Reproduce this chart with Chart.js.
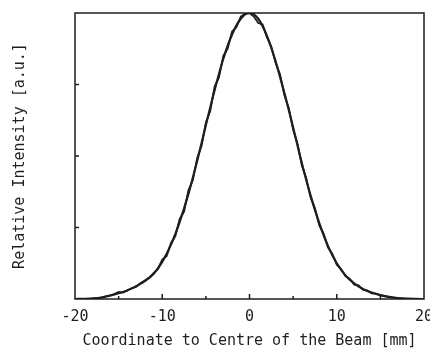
<!DOCTYPE html>
<html>
<head>
<meta charset="utf-8">
<script src="https://cdn.jsdelivr.net/npm/chart.js@4"></script>
<style>
  body { margin: 0; background: #fff; }
  #wrap { width: 430px; height: 354px; }
</style>
</head>
<body>
<div id="wrap"><canvas id="beamProfile"></canvas></div>
<script>
// fitted profile, mm / a.u.
const fitX = [-20, -19, -18, -17, -16, -15, -14, -13, -12, -11, -10, -9, -8, -7, -6, -5, -4, -3, -2, -1,
  0, 1, 2, 3, 4, 5, 6, 7, 8, 9, 10, 11, 12, 13, 14, 15, 16, 17, 18, 19, 20];
const fitY = [0, 0.003, 0.008, 0.02, 0.045, 0.08, 0.12, 0.18, 0.25, 0.35, 0.52, 0.76, 1.08, 1.47, 1.93, 2.43, 2.92, 3.36, 3.70, 3.92,
  4.00, 3.92, 3.68, 3.32, 2.88, 2.40, 1.90, 1.45, 1.06, 0.74, 0.50, 0.33, 0.22, 0.14, 0.09, 0.055, 0.03, 0.012, 0.004, 0.001, 0];

// measured profile
const measX = [-17, -16.5, -16, -15.5, -15, -14.5, -14, -13.5, -13, -12.5, -12, -11.5, -11, -10.5, -10, -9.5, -9, -8.5,
  -8, -7.5, -7, -6.5, -6, -5.5, -5, -4.5, -4, -3.5, -3, -2.5, -2, -1.5, -1, -0.5,
  0, 0.5, 1, 1.5, 2, 2.5, 3, 3.5, 4, 4.5, 5, 5.5, 6, 6.5, 7, 7.5, 8, 8.5,
  9, 9.5, 10, 10.5, 11, 11.5, 12, 12.5, 13, 13.5, 14, 14.5, 15, 15.5, 16, 16.5, 17, 17.5, 18];
const measY = [0.02, 0.035, 0.05, 0.07, 0.10, 0.09, 0.12, 0.15, 0.17, 0.22, 0.26, 0.30, 0.36, 0.42, 0.55, 0.60, 0.78, 0.88,
  1.12, 1.22, 1.52, 1.66, 1.97, 2.14, 2.47, 2.63, 2.97, 3.10, 3.40, 3.50, 3.74, 3.80, 3.95, 3.99,
  4.00, 3.95, 3.86, 3.84, 3.66, 3.53, 3.30, 3.14, 2.85, 2.67, 2.37, 2.17, 1.87, 1.69, 1.42, 1.27, 1.03, 0.91,
  0.72, 0.63, 0.48, 0.42, 0.32, 0.28, 0.20, 0.19, 0.13, 0.12, 0.08, 0.075, 0.05, 0.045, 0.025, 0.02, 0.01, 0.005, 0];

const xTicks = [-20, -10, 0, 10, 20];
const xMinorTicks = [-15, -5, 5, 15];
const yTicks = [1, 2, 3];

const ink = '#1e1e1e';
const monoFont = { family: 'DejaVu Sans Mono', size: 15 };

// frame + inward tick marks like the plotter output
const framePlugin = {
  id: 'frame',
  afterDraw(chart) {
    const { ctx, chartArea: a, scales } = chart;
    ctx.save();
    ctx.strokeStyle = ink;
    ctx.lineWidth = 1.5;
    ctx.strokeRect(a.left, a.top, a.right - a.left, a.bottom - a.top);
    ctx.beginPath();
    xTicks.slice(1, -1).forEach(v => {
      const px = scales.x.getPixelForValue(v);
      ctx.moveTo(px, a.bottom);
      ctx.lineTo(px, a.bottom - 5);
    });
    xMinorTicks.forEach(v => {
      const px = scales.x.getPixelForValue(v);
      ctx.moveTo(px, a.bottom);
      ctx.lineTo(px, a.bottom - 3);
    });
    yTicks.forEach(v => {
      const py = scales.y.getPixelForValue(v);
      ctx.moveTo(a.left, py);
      ctx.lineTo(a.left + 4, py);
    });
    ctx.stroke();
    ctx.restore();
  }
};

new Chart(document.getElementById('beamProfile'), {
  type: 'scatter',
  data: {
    datasets: [
      {
        label: 'fit',
        data: fitX.map((x, i) => ({ x: x, y: fitY[i] })),
        showLine: true,
        borderColor: ink,
        borderWidth: 2.2,
        pointRadius: 0,
        cubicInterpolationMode: 'monotone'
      },
      {
        label: 'measured',
        data: measX.map((x, i) => ({ x: x, y: measY[i] })),
        showLine: true,
        borderColor: ink,
        borderWidth: 1.8,
        pointRadius: 0,
        tension: 0
      }
    ]
  },
  options: {
    responsive: true,
    maintainAspectRatio: false,
    animation: false,
    layout: { padding: { top: 13, right: 6, left: 0, bottom: 0 } },
    plugins: {
      legend: { display: false },
      tooltip: { enabled: false }
    },
    scales: {
      x: {
        type: 'linear',
        min: -20,
        max: 20,
        grid: { display: false, drawTicks: false },
        border: { display: false },
        ticks: {
          stepSize: 10,
          padding: 9,
          color: ink,
          font: monoFont,
          maxRotation: 0
        },
        title: {
          display: true,
          text: 'Coordinate to Centre of the Beam [mm]',
          color: ink,
          font: monoFont,
          padding: { top: 6, bottom: 4 }
        },
        afterFit(scale) {
          scale.height = 55;
          scale.paddingLeft = 0;
          scale.paddingRight = 0;
        }
      },
      y: {
        min: 0,
        max: 4,
        grid: { display: false, drawTicks: false },
        border: { display: false },
        ticks: { display: false, stepSize: 1 },
        title: {
          display: true,
          text: 'Relative Intensity [a.u.]',
          color: ink,
          font: monoFont,
          padding: { top: 11, bottom: 0 }
        },
        afterFit(scale) {
          scale.width = 75;
          scale.paddingTop = 0;
          scale.paddingBottom = 0;
        }
      }
    }
  },
  plugins: [framePlugin]
});
</script>
</body>
</html>
